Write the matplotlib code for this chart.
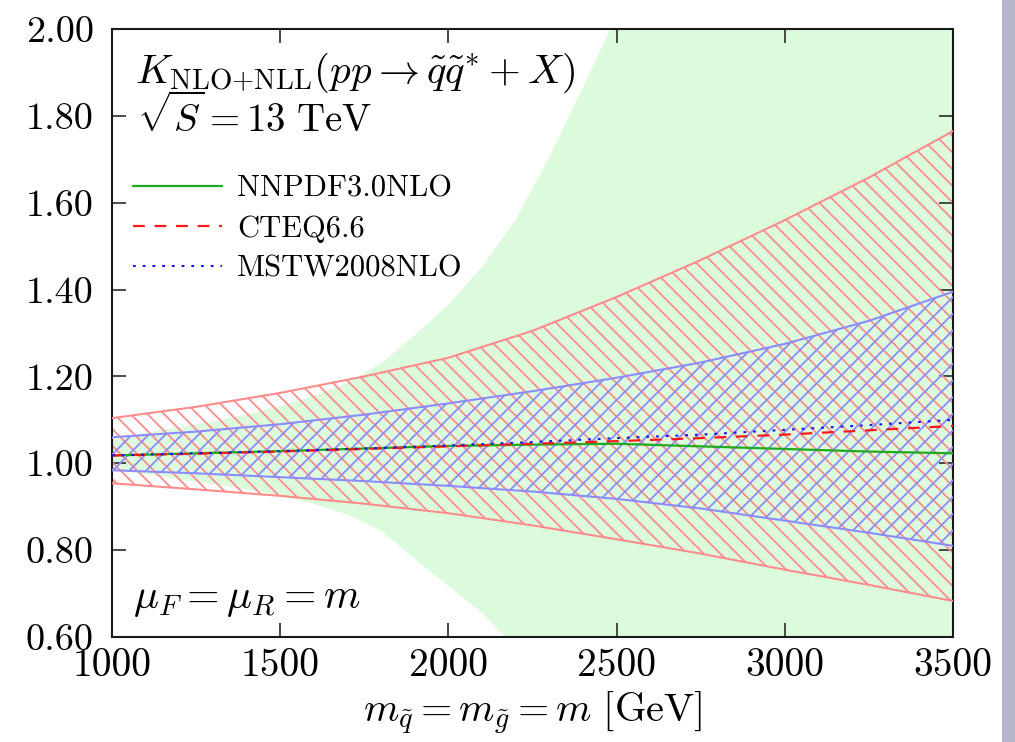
import numpy as np
import matplotlib
matplotlib.use("Agg")
import matplotlib.pyplot as plt
from matplotlib.ticker import FormatStrFormatter, MultipleLocator
from matplotlib.patches import Rectangle

plt.rcParams["font.family"] = ["cmr10", "DejaVu Serif"]
plt.rcParams["mathtext.fontset"] = "cm"
plt.rcParams["axes.formatter.use_mathtext"] = True
plt.rcParams["hatch.linewidth"] = 1.3
plt.rcParams["lines.scale_dashes"] = False

# masses (GeV) on which the PDF bands / central values were read
mass = [1000, 1250, 1500, 1750, 2000, 2250, 2500, 2750, 3000, 3250, 3500]

nnpdf_central = [1.018, 1.023, 1.028, 1.034, 1.040, 1.043, 1.045, 1.039, 1.033, 1.027, 1.023]
cteq_central = [1.018, 1.022, 1.027, 1.033, 1.039, 1.045, 1.051, 1.058, 1.066, 1.076, 1.086]
mstw_central = [1.018, 1.023, 1.028, 1.034, 1.041, 1.049, 1.058, 1.066, 1.077, 1.088, 1.100]

cteq_upper = [1.104, 1.130, 1.162, 1.200, 1.243, 1.305, 1.383, 1.468, 1.560, 1.658, 1.765]
cteq_lower = [0.954, 0.940, 0.925, 0.907, 0.885, 0.857, 0.825, 0.792, 0.755, 0.720, 0.683]
mstw_upper = [1.060, 1.073, 1.090, 1.112, 1.138, 1.166, 1.197, 1.232, 1.275, 1.328, 1.395]
mstw_lower = [0.984, 0.977, 0.968, 0.959, 0.948, 0.935, 0.918, 0.896, 0.868, 0.840, 0.810]

# NNPDF3.0 band (green), runs off the plot above ~2150/2500 GeV
nnpdf_mass = [1000, 1100, 1250, 1400, 1500, 1600, 1700, 1800, 1900, 2000,
              2100, 2200, 2300, 2400, 2500, 2600, 2800, 3000, 3500]
nnpdf_upper = [1.055, 1.070, 1.090, 1.112, 1.132, 1.155, 1.185, 1.230, 1.295, 1.365,
               1.452, 1.560, 1.705, 1.865, 2.030, 2.220, 2.620, 3.000, 4.000]
nnpdf_lower = [0.985, 0.975, 0.958, 0.940, 0.925, 0.906, 0.882, 0.845, 0.780, 0.718,
               0.655, 0.575, 0.480, 0.380, 0.280, 0.180, 0.000, -0.200, -0.800]

labels = ["NNPDF3.0NLO", "CTEQ6.6", "MSTW2008NLO"]

red_band = "#ff8c8c"
blue_band = "#8c8cff"

fig = plt.figure(figsize=(10.15, 7.42), dpi=100)
ax = fig.add_axes([0.1103, 0.1415, 0.8286, 0.8194])

ax.fill_between(nnpdf_mass, nnpdf_lower, nnpdf_upper, facecolor="#dcfadc",
                edgecolor="none", linewidth=0, zorder=1)
ax.fill_between(mass, cteq_lower, cteq_upper, facecolor="none", edgecolor=red_band,
                hatch="\\\\", linewidth=0, zorder=2)
ax.fill_between(mass, mstw_lower, mstw_upper, facecolor="none", edgecolor=blue_band,
                hatch="//", linewidth=0, zorder=3)
for y in (cteq_upper, cteq_lower):
    ax.plot(mass, y, color=red_band, lw=1.5, zorder=4)
for y in (mstw_upper, mstw_lower):
    ax.plot(mass, y, color=blue_band, lw=1.5, zorder=4)

l1, = ax.plot(mass, nnpdf_central, color="#1faa1f", lw=1.6, zorder=5)
l2, = ax.plot(mass, cteq_central, color="#ff1a1a", lw=1.6, dashes=(8.5, 7), zorder=6)
l3, = ax.plot(mass, mstw_central, color="#1515e6", lw=1.5, dashes=(2, 5), zorder=7)

ax.set_xlim(1000, 3500)
ax.set_ylim(0.6, 2.0)
ax.xaxis.set_major_locator(MultipleLocator(500))
ax.yaxis.set_major_locator(MultipleLocator(0.2))
ax.yaxis.set_major_formatter(FormatStrFormatter("%.2f"))
ax.xaxis.set_major_formatter(FormatStrFormatter("%d"))
ax.tick_params(direction="in", top=True, right=True, length=10, width=1.1,
               color="#1a1a1a")
ax.tick_params(axis="x", pad=8, labelsize=28.5)
ax.tick_params(axis="y", pad=13, labelsize=27.5)
for s in ax.spines.values():
    s.set_linewidth(1.5)
    s.set_color("#1a1a1a")

ax.set_xlabel(r"$m_{\tilde{q}} = m_{\tilde{g}} = m\ [\mathrm{GeV}]$", fontsize=29, labelpad=4)

ax.text(0.027, 0.911, r"$K_{\mathrm{NLO{+}NLL}}(pp \rightarrow \tilde{q}\tilde{q}^{*} + X)$",
        transform=ax.transAxes, fontsize=29.5, va="baseline", ha="left")
ax.text(0.030, 0.831, r"$\sqrt{S} = 13\ \mathrm{TeV}$",
        transform=ax.transAxes, fontsize=28, va="baseline", ha="left")
ax.text(0.025, 0.048, r"$\mu_F = \mu_R = m$",
        transform=ax.transAxes, fontsize=30, va="baseline", ha="left")

ax.legend([l1, l2, l3], labels, loc="upper left", bbox_to_anchor=(0.025, 0.76),
          frameon=False, fontsize=22, handlelength=2.9, handletextpad=0.5,
          labelspacing=0.42, borderaxespad=0, borderpad=0)

# grey strip at the right edge of the screenshot
fig.patches.append(Rectangle((0.987, 0), 0.013, 1, transform=fig.transFigure,
                             facecolor="#b6b6cb", edgecolor="none", zorder=0))

fig.savefig("out.png", dpi=100)
